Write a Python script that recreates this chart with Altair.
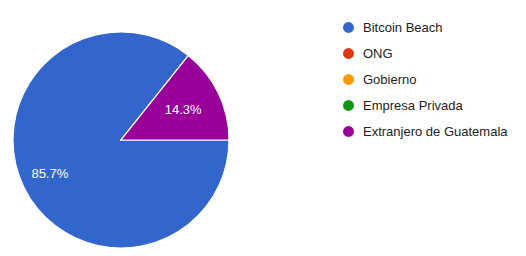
import altair as alt
import pandas as pd

categories = ["Bitcoin Beach", "ONG", "Gobierno", "Empresa Privada", "Extranjero de Guatemala"]
values = [85.7, 0, 0, 0, 14.3]
colors = ["#3366cc", "#dc3912", "#ff9900", "#109618", "#990099"]
labels = ["85.7%", "", "", "", "14.3%"]
label_radius = [79, 0, 0, 0, 69]

df = pd.DataFrame({"cat": categories, "val": values, "label": labels,
                   "lr": label_radius, "order": list(range(len(categories)))})

font = "Liberation Sans"
color = alt.Color("cat:N", sort=categories,
                  scale=alt.Scale(domain=categories, range=colors),
                  legend=alt.Legend(title=None, orient="none", legendX=334, legendY=13,
                                    symbolType="circle", symbolSize=120, symbolStrokeWidth=0,
                                    labelFont=font, labelFontSize=13, labelColor="#222222",
                                    rowPadding=12, labelOffset=8, labelLimit=0))

theta_scale = alt.Scale(domain=[0, 100], range=[1.5707963, 1.5707963 + 6.2831853])

base = alt.Chart(df).transform_window(
    cum="sum(val)", sort=[alt.SortField("order")], frame=[None, 0]
).transform_calculate(
    start="datum.cum - datum.val", mid="datum.cum - datum.val / 2"
).transform_filter(alt.datum.val > 0)

arcs = base.mark_arc(radius=108, stroke="white", strokeWidth=1.2).encode(
    theta=alt.Theta("start:Q", scale=theta_scale), theta2="cum:Q",
    color=color, x=alt.value(113), y=alt.value(132))

text = base.mark_text(font=font, fontSize=13, color="white").encode(
    theta=alt.Theta("mid:Q", scale=theta_scale),
    text="label:N", radius=alt.Radius("lr:Q", scale=None),
    x=alt.value(113), y=alt.value(132))

chart = alt.layer(arcs, text).properties(
    width=510, height=240, autosize=alt.AutoSizeParams(type="none"), padding=0
).configure_view(stroke=None)

chart.save("out.html", embed_options={"renderer": "svg", "actions": False})
